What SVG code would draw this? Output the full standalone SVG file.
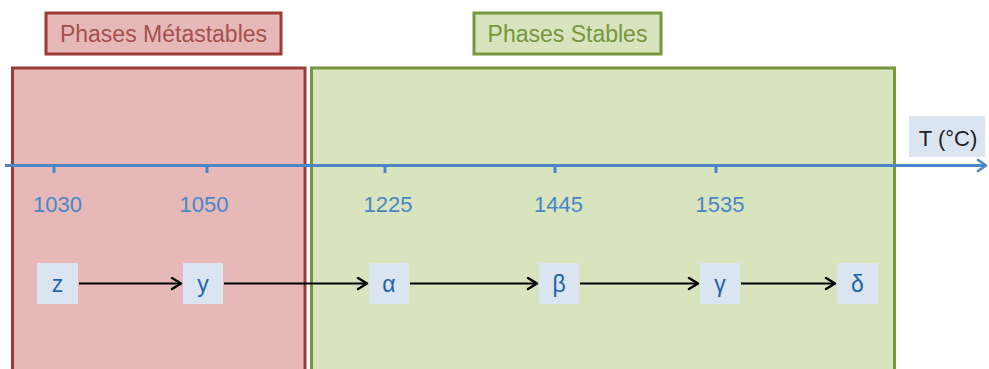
<svg xmlns="http://www.w3.org/2000/svg" width="989" height="369" viewBox="0 0 989 369">
<style>
text{font-family:"Liberation Sans",Arial,sans-serif;}
.red{fill:#e6b9b8;stroke:#9a3c38;stroke-width:3;}
.green{fill:#d7e4bd;stroke:#78963f;stroke-width:3;}
.redt{fill:#a5504c;font-size:23px;text-anchor:middle;}
.greent{fill:#76963c;font-size:23px;text-anchor:middle;}
.node{fill:#dbe5f1;}
.nt{fill:#1f64a8;font-size:23px;text-anchor:middle;}
.num{fill:#4a86c6;font-size:22px;text-anchor:middle;}
.tick{stroke:#4a86c6;stroke-width:3;}
.conn{stroke:#000;stroke-width:2.2;fill:none;marker-end:url(#ah);}
</style>
<defs>
<marker id="ah" markerWidth="14" markerHeight="14" refX="12" refY="7" orient="auto" markerUnits="userSpaceOnUse">
<path d="M3,1.5 L12,7 L3,12.5" fill="none" stroke="#000" stroke-width="2.4" stroke-linecap="round" stroke-linejoin="round"/>
</marker>
<marker id="axah" markerWidth="14" markerHeight="14" refX="12" refY="7" orient="auto" markerUnits="userSpaceOnUse">
<path d="M4,1.5 L12,7 L4,12.5" fill="none" stroke="#4a86c6" stroke-width="2.6" stroke-linecap="round" stroke-linejoin="round"/>
</marker>
</defs>
<rect width="989" height="369" fill="#ffffff"/>

<g id="metastable-zone">
<rect class="red" x="12.5" y="68" width="292.5" height="310"/>
</g>
<g id="stable-zone">
<rect class="green" x="311.5" y="68" width="583" height="310"/>
</g>
<g id="label-metastables">
<rect class="red" x="46" y="13" width="235" height="41"/>
<text class="redt" x="163.5" y="41.5">Phases Métastables</text>
</g>
<g id="label-stables">
<rect class="green" x="474" y="13" width="187" height="41"/>
<text class="greent" x="567.5" y="41.5">Phases Stables</text>
</g>

<g id="axis">
<line x1="5" y1="165.5" x2="986" y2="165.5" stroke="#4a86c6" stroke-width="3" marker-end="url(#axah)"/>
<line class="tick" x1="54" y1="165" x2="54" y2="173"/>
<line class="tick" x1="207" y1="165" x2="207" y2="173"/>
<line class="tick" x1="385" y1="165" x2="385" y2="173"/>
<line class="tick" x1="555" y1="165" x2="555" y2="173"/>
<line class="tick" x1="716" y1="165" x2="716" y2="173"/>
<text class="num" x="57.5" y="212">1030</text>
<text class="num" x="204" y="212">1050</text>
<text class="num" x="388" y="212">1225</text>
<text class="num" x="558.5" y="212">1445</text>
<text class="num" x="720" y="212">1535</text>
</g>
<g id="axis-label">
<rect class="node" x="909" y="116" width="76" height="41"/>
<text x="948" y="146" font-size="22" fill="#222" text-anchor="middle">T (°C)</text>
</g>

<g id="connectors">
<line class="conn" x1="79" y1="283.5" x2="181" y2="283.5"/>
<line class="conn" x1="224" y1="283.5" x2="367" y2="283.5"/>
<line class="conn" x1="410" y1="283.5" x2="537" y2="283.5"/>
<line class="conn" x1="580" y1="283.5" x2="698" y2="283.5"/>
<line class="conn" x1="741" y1="283.5" x2="835" y2="283.5"/>
</g>

<g id="node-z">
<rect class="node" x="37" y="263" width="41" height="41"/>
<text class="nt" x="57.5" y="292">z</text>
</g>
<g id="node-y">
<rect class="node" x="183" y="263" width="40" height="41"/>
<text class="nt" x="203" y="292">y</text>
</g>
<g id="node-alpha">
<rect class="node" x="369" y="263" width="40" height="41"/>
<text class="nt" x="389" y="292">α</text>
</g>
<g id="node-beta">
<rect class="node" x="539" y="263" width="40" height="41"/>
<text class="nt" x="559" y="292">β</text>
</g>
<g id="node-gamma">
<rect class="node" x="700" y="263" width="40" height="41"/>
<text class="nt" x="720" y="292">γ</text>
</g>
<g id="node-delta">
<rect class="node" x="837" y="263" width="41" height="41"/>
<text class="nt" x="857.5" y="292">δ</text>
</g>
</svg>
